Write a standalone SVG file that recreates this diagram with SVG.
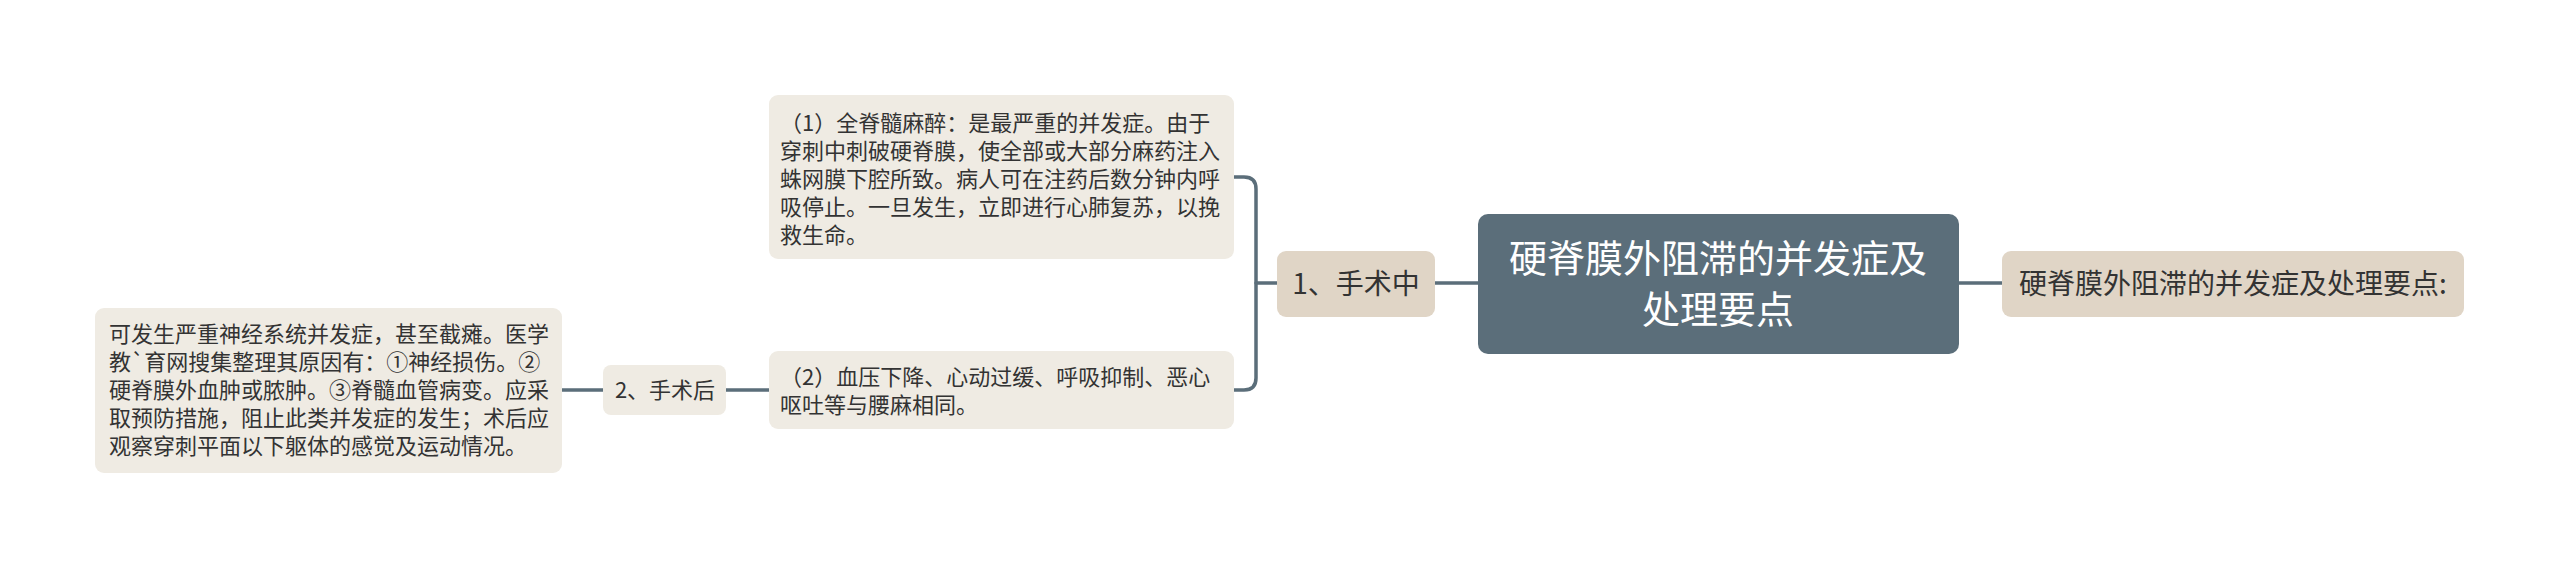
<svg xmlns="http://www.w3.org/2000/svg" width="2560" height="568" viewBox="0 0 2560 568">
<style>
text{font-family:"Noto Sans CJK SC","Noto Sans",sans-serif;fill:#333333}
.leaf{fill:#efebe3}
.l1{fill:#e0d5c6}
.root{fill:#5b6e7a}
.conn{fill:none;stroke:#5b6e7a;stroke-width:3.5;stroke-linecap:round;stroke-linejoin:round}
.t22{font-size:22px}
.t28{font-size:28px}
.rt{font-size:38px;fill:#ffffff}
</style>
<rect width="2560" height="568" fill="#ffffff"/>
<g id="connectors">
<path class="conn" d="M1478,283 H1435"/>
<path class="conn" d="M1959,283 H2002"/>
<path class="conn" d="M1277,283 H1256"/>
<path class="conn" d="M1234,177 H1244 Q1256,177 1256,189 V378 Q1256,390 1244,390 H1234"/>
<path class="conn" d="M769,390 H726"/>
<path class="conn" d="M603,390 H562"/>
</g>
<g id="root">
<rect class="root" x="1478" y="214" width="481" height="140" rx="10"/>
<text class="rt" x="1718" y="272" text-anchor="middle">硬脊膜外阻滞的并发症及</text>
<text class="rt" x="1718" y="323" text-anchor="middle">处理要点</text>
</g>
<g id="summary">
<rect class="l1" x="2002" y="251" width="462" height="66" rx="9"/>
<text class="t28" x="2233" y="294" text-anchor="middle">硬脊膜外阻滞的并发症及处理要点:</text>
</g>
<g id="during">
<rect class="l1" x="1277" y="251" width="158" height="66" rx="9"/>
<text class="t28" x="1356" y="294" text-anchor="middle">1、手术中</text>
</g>
<g id="leaf1">
<rect class="leaf" x="769" y="95" width="465" height="164" rx="9"/>
<text class="t22">
<tspan x="780" y="131">（1）全脊髓麻醉：是最严重的并发症。由于</tspan>
<tspan x="780" y="159">穿刺中刺破硬脊膜，使全部或大部分麻药注入</tspan>
<tspan x="780" y="187">蛛网膜下腔所致。病人可在注药后数分钟内呼</tspan>
<tspan x="780" y="215">吸停止。一旦发生，立即进行心肺复苏，以挽</tspan>
<tspan x="780" y="243">救生命。</tspan>
</text>
</g>
<g id="leaf2">
<rect class="leaf" x="769" y="351" width="465" height="78" rx="9"/>
<text class="t22">
<tspan x="780" y="385">（2）血压下降、心动过缓、呼吸抑制、恶心</tspan>
<tspan x="780" y="413">呕吐等与腰麻相同。</tspan>
</text>
</g>
<g id="after">
<rect class="leaf" x="603" y="365" width="123" height="50" rx="8"/>
<text class="t22" x="665" y="398" text-anchor="middle">2、手术后</text>
</g>
<g id="leaf3">
<rect class="leaf" x="95" y="308" width="467" height="165" rx="9"/>
<text class="t22">
<tspan x="109" y="342">可发生严重神经系统并发症，甚至截瘫。医学</tspan>
<tspan x="109" y="370">教`育网搜集整理其原因有：①神经损伤。②</tspan>
<tspan x="109" y="398">硬脊膜外血肿或脓肿。③脊髓血管病变。应采</tspan>
<tspan x="109" y="426">取预防措施，阻止此类并发症的发生；术后应</tspan>
<tspan x="109" y="454">观察穿刺平面以下躯体的感觉及运动情况。</tspan>
</text>
</g>
</svg>
